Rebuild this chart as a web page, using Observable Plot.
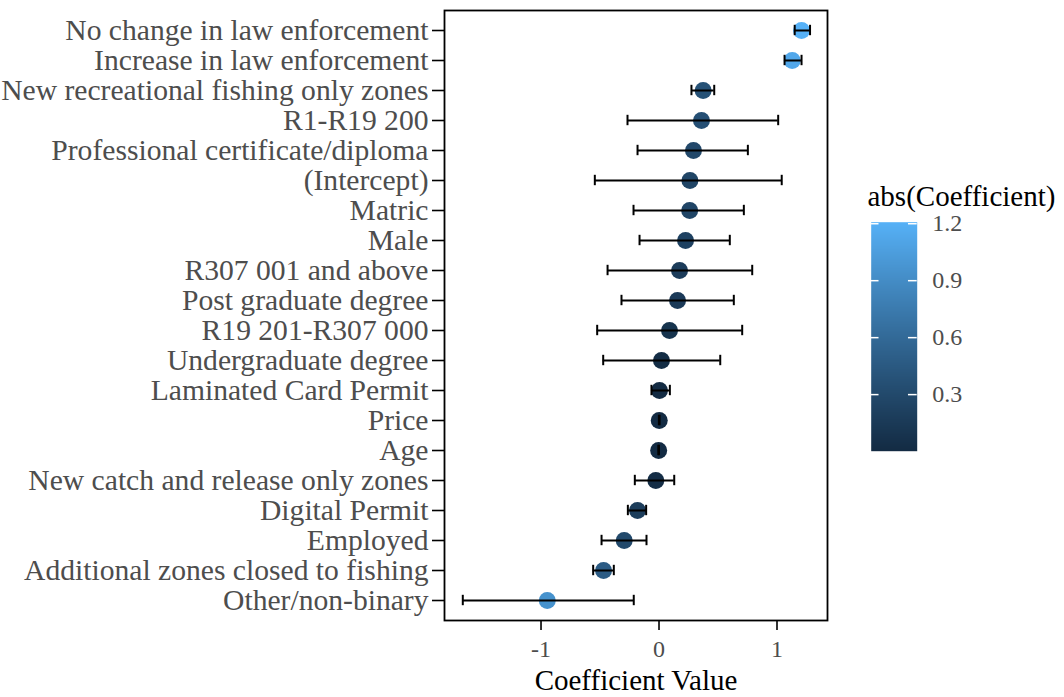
<!DOCTYPE html>
<html>
<head>
<meta charset="utf-8">
<script src="https://cdn.jsdelivr.net/npm/d3@7"></script>
<script src="https://cdn.jsdelivr.net/npm/@observablehq/plot@0.6"></script>
<style>
  html, body { margin: 0; padding: 0; background: #fff; }
  #wrap { position: relative; width: 1064px; height: 697px; overflow: hidden; }
  #chart { position: absolute; left: 0; top: 0; }
  #legend { position: absolute; left: 860px; top: 180px; }
</style>
</head>
<body>
<div id="wrap"><div id="chart"></div><div id="legend"></div></div>
<script>
// Model terms, top to bottom
const terms = [
  "No change in law enforcement",
  "Increase in law enforcement",
  "New recreational fishing only zones",
  "R1-R19 200",
  "Professional certificate/diploma",
  "(Intercept)",
  "Matric",
  "Male",
  "R307 001 and above",
  "Post graduate degree",
  "R19 201-R307 000",
  "Undergraduate degree",
  "Laminated Card Permit",
  "Price",
  "Age",
  "New catch and release only zones",
  "Digital Permit",
  "Employed",
  "Additional zones closed to fishing",
  "Other/non-binary"
];
// Point estimates
const coefficients = [1.208, 1.129, 0.374, 0.360, 0.292, 0.262, 0.260, 0.225, 0.174, 0.157,
  0.089, 0.021, 0.004, 0.002, -0.003, -0.027, -0.182, -0.295, -0.470, -0.947];
// Confidence interval bounds
const lower = [1.150, 1.064, 0.275, -0.267, -0.182, -0.544, -0.216, -0.165, -0.436, -0.318,
  -0.524, -0.473, -0.064, -0.001, -0.006, -0.205, -0.264, -0.487, -0.558, -1.663];
const upper = [1.280, 1.208, 0.468, 1.010, 0.753, 1.040, 0.719, 0.600, 0.790, 0.634,
  0.705, 0.519, 0.092, 0.005, 0.000, 0.129, -0.109, -0.106, -0.383, -0.214];
const xTicks = [-1, 0, 1];
const legendTicks = [0.3, 0.6, 0.9, 1.2];

const rows = terms.map((term, i) => ({
  term,
  coef: coefficients[i],
  lo: lower[i],
  hi: upper[i],
  mag: Math.abs(coefficients[i])
}));

const magExtent = d3.extent(rows, d => d.mag);
const colorScale = {
  type: "linear",
  domain: magExtent,
  range: ["#132B43", "#56B1F7"],
  interpolate: "lab"
};
const font = "'Liberation Serif', 'Times New Roman', serif";

const chart = Plot.plot({
  width: 840,
  height: 697,
  marginLeft: 444,
  marginRight: 13,
  marginTop: 10,
  marginBottom: 77,
  style: { fontFamily: font, background: "white", overflow: "visible" },
  x: { domain: [-1.818, 1.428] },
  y: { type: "band", domain: terms, paddingInner: 0, paddingOuter: 0.06 },
  color: colorScale,
  marks: [
    Plot.dot(rows, { x: "coef", y: "term", r: 8.5, fill: "mag", stroke: null }),
    Plot.ruleY(rows, { y: "term", x1: "lo", x2: "hi", stroke: "black", strokeWidth: 2 }),
    Plot.tickX(rows, { x: "lo", y: "term", insetTop: 9.8, insetBottom: 9.8, stroke: "black", strokeWidth: 2 }),
    Plot.tickX(rows, { x: "hi", y: "term", insetTop: 9.8, insetBottom: 9.8, stroke: "black", strokeWidth: 2 }),
    Plot.frame({ stroke: "black", strokeWidth: 1.8 }),
    Plot.axisY({
      tickSize: 12, tickPadding: 4, fontSize: 29.6,
      fill: "#4D4D4D", stroke: "black", strokeWidth: 1.6, label: null
    }),
    Plot.axisX({
      ticks: xTicks, tickSize: 10, tickPadding: 9, fontSize: 24,
      tickFormat: d => String(d),
      fill: "#4D4D4D", stroke: "black", strokeWidth: 1.6, label: null
    }),
    Plot.text(["Coefficient Value"], {
      frameAnchor: "bottom", dy: 60, text: d => d,
      fontSize: 29, fill: "black", lineAnchor: "middle"
    })
  ]
});
document.getElementById("chart").append(chart);

// Continuous colour bar for abs(Coefficient)
const legend = Plot.plot({
  width: 204,
  height: 280,
  marginLeft: 10.7,
  marginRight: 147.3,
  marginTop: 41.7,
  marginBottom: 9.3,
  style: { fontFamily: font, background: "transparent", overflow: "visible" },
  x: { domain: [0, 1], axis: null },
  y: { domain: magExtent },
  color: colorScale,
  marks: [
    Plot.raster({
      x1: 0, x2: 1, y1: magExtent[0], y2: magExtent[1],
      fill: (x, y) => y, pixelSize: 1, imageRendering: "auto"
    }),
    Plot.ruleY(legendTicks, { x1: 0, x2: 0.17, stroke: "white", strokeWidth: 1.5 }),
    Plot.ruleY(legendTicks, { x1: 0.81, x2: 1, stroke: "white", strokeWidth: 1.5 }),
    Plot.axisY({
      anchor: "right", ticks: legendTicks, tickSize: 0, tickPadding: 15,
      fontSize: 24, fill: "#4D4D4D", label: null, tickFormat: d => d.toFixed(1)
    }),
    Plot.text(["abs(Coefficient)"], {
      frameAnchor: "top-left", dx: -3.7, dy: -25.7, text: d => d,
      fontSize: 29, fill: "black", textAnchor: "start", lineAnchor: "middle"
    })
  ]
});
document.getElementById("legend").append(legend);
</script>
</body>
</html>
